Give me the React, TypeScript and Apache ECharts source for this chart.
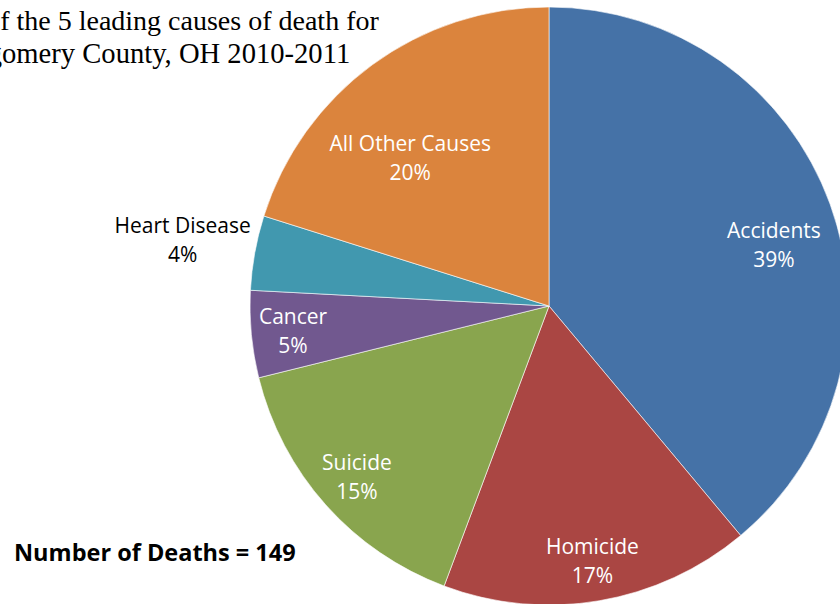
import React, { useEffect, useRef } from "react";
import * as echarts from "echarts";

const categories = ["Accidents", "Homicide", "Suicide", "Cancer", "Heart Disease", "All Other Causes"];
const deaths = [58, 25, 23, 7, 6, 30];
const sliceColors = ["#4572A7", "#AA4643", "#89A54E", "#71588F", "#4198AF", "#DB843D"];
const labelColors = ["#ffffff", "#ffffff", "#ffffff", "#ffffff", "#000000", "#ffffff"];
const titleLines = ["Percent of the 5 leading causes of death for", "Montgomery County, OH 2010-2011"];
const totalNote = "Number of Deaths = 149";

// layout (not data)
const CX = 549;
const CY = 306;
const R = 299;
const LABEL_RADIUS = [0.78, 0.865, 0.86, 0.86, 1.245, 0.68];
const LABEL_ANGLE_SHIFT = [4.6, 0, 0, 0, 0, -6.8];
const LABEL_FONT = "'Open Sans', Carlito, Calibri, sans-serif";
const TITLE_X = [137, 138];
const TITLE_Y = [6, 39];
const TITLE_SIZE = [28, 28.6];

export default function App() {
  const ref = useRef<HTMLDivElement>(null);
  useEffect(() => {
    if (!ref.current) return;
    const chart = echarts.init(ref.current, undefined, { renderer: "svg" });
    const total = deaths.reduce((a, b) => a + b, 0);
    const mids: number[] = [];
    let cum = 0;
    deaths.forEach((v) => {
      mids.push(((cum + v / 2) / total) * 360);
      cum += v;
    });
    chart.setOption({
      animation: false,
      backgroundColor: "#ffffff",
      graphic: [
        ...titleLines.map((t, i) => ({
          type: "text",
          x: TITLE_X[i],
          y: TITLE_Y[i],
          style: {
            text: t,
            fontFamily: "'Liberation Serif', 'Times New Roman', serif",
            fontSize: TITLE_SIZE[i],
            textAlign: "center",
            textVerticalAlign: "top",
            fill: "#000",
          },
        })),
        {
          type: "text",
          x: 14,
          y: 552,
          style: {
            text: totalNote,
            fontFamily: LABEL_FONT,
            fontWeight: "bold",
            fontSize: 23.5,
            textAlign: "left",
            textVerticalAlign: "middle",
            fill: "#000",
          },
        },
      ],
      series: [
        {
          type: "pie",
          center: [CX, CY],
          radius: R,
          startAngle: 90,
          clockwise: true,
          avoidLabelOverlap: false,
          itemStyle: { borderColor: "#ffffff", borderWidth: 0.6 },
          labelLine: { show: false },
          label: {
            show: true,
            position: "inside",
            fontFamily: LABEL_FONT,
            fontSize: 21,
            lineHeight: 29,
            align: "center",
            formatter: (p: any) => `${p.name}\n${Math.round(p.percent)}%`,
          },
          labelLayout: (p: any) => {
            const i = p.dataIndex;
            const ang = ((mids[i] + LABEL_ANGLE_SHIFT[i]) * Math.PI) / 180;
            const r = R * LABEL_RADIUS[i];
            return {
              x: CX + r * Math.sin(ang),
              y: CY - r * Math.cos(ang),
              align: "center",
              verticalAlign: "middle",
            };
          },
          data: categories.map((c, i) => ({
            name: c,
            value: deaths[i],
            itemStyle: { color: sliceColors[i] },
            label: { color: labelColors[i] },
          })),
        },
      ],
    });
    return () => chart.dispose();
  }, []);
  return (
    <div
      ref={ref}
      style={{ position: "fixed", left: 0, top: 0, width: 840, height: 604 }}
    />
  );
}
